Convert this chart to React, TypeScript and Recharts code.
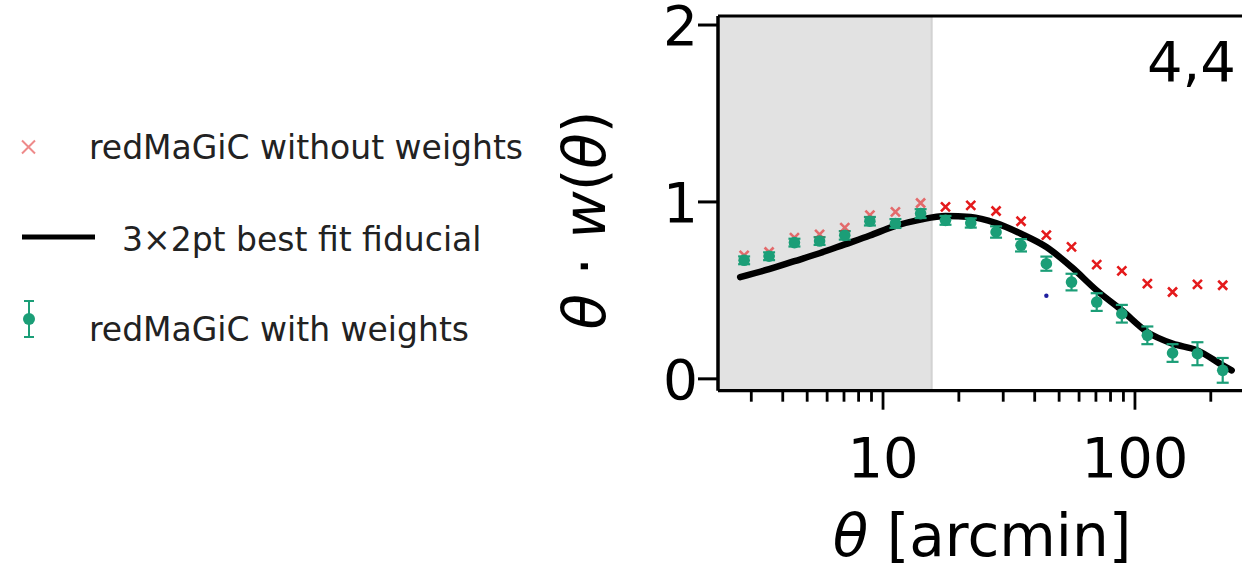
import React from 'react';
import { ComposedChart, XAxis, YAxis, Line, Scatter, ErrorBar, ReferenceArea, ReferenceLine } from 'recharts';

// ---- data ----
const thetaBins = [2.81, 3.53, 4.45, 5.6, 7.05, 8.87, 11.2, 14.1, 17.7, 22.3, 28.1, 35.3, 44.5, 56.0, 70.5, 88.7, 112, 141, 177, 223];
const withWeights = [0.67, 0.693, 0.77, 0.779, 0.811, 0.891, 0.878, 0.934, 0.896, 0.881, 0.83, 0.755, 0.651, 0.547, 0.434, 0.368, 0.246, 0.146, 0.142, 0.048];
const withWeightsErr = [0.022, 0.022, 0.022, 0.022, 0.024, 0.024, 0.025, 0.025, 0.025, 0.026, 0.032, 0.035, 0.04, 0.047, 0.05, 0.05, 0.05, 0.05, 0.065, 0.07];
const withoutWeights = [0.698, 0.717, 0.798, 0.817, 0.855, 0.925, 0.944, 0.994, 0.972, 0.981, 0.949, 0.891, 0.812, 0.746, 0.646, 0.61, 0.538, 0.491, 0.534, 0.529];
const fitTheta = [2.71, 3.53, 4.45, 5.6, 7.05, 8.87, 11.2, 14.1, 17.7, 22.3, 28.1, 35.3, 44.5, 56, 70.5, 88.7, 112, 141, 177, 223, 242];
const fitValues = [0.575, 0.62, 0.665, 0.71, 0.76, 0.81, 0.865, 0.9, 0.92, 0.915, 0.88, 0.82, 0.745, 0.632, 0.5, 0.387, 0.264, 0.199, 0.161, 0.076, 0.048];
const strayTheta = [44.5];
const strayValues = [0.47];

const xTicks = [3, 4, 5, 6, 7, 8, 9, 10, 20, 30, 40, 50, 60, 70, 80, 90, 100, 200];
const xMajor = [10, 100];
const yTicks = [0, 1, 2];
const legendLabels = ['redMaGiC without weights', '3×2pt best fit fiducial', 'redMaGiC with weights'];
const panelLabel = '4,4';
const scaleCut = 15.6;

const X_DOMAIN: [number, number] = [2.213, 266];
const Y_DOMAIN: [number, number] = [-0.067, 2.051];

const GREEN = '#1b9e77';
const RED = '#e41a1c';
const FONT = 'DejaVu Sans';

const withData = thetaBins.map((t, i) => ({ theta: t, y: withWeights[i], err: withWeightsErr[i] }));
const withoutData = thetaBins.map((t, i) => ({ theta: t, y: withoutWeights[i] }));
const fitData = fitTheta.map((t, i) => ({ theta: t, y: fitValues[i] }));
const strayData = strayTheta.map((t, i) => ({ theta: t, y: strayValues[i] }));

const BottomTick = (props: any) => {
  const { x, y, payload } = props;
  const v = payload.value;
  const major = xMajor.includes(v);
  return (
    <g>
      <line x1={x} x2={x} y1={y} y2={y + (major ? 19 : 11)} stroke="#000" strokeWidth={2.8} />
      {major && (
        <text x={x} y={y + 86} textAnchor="middle" fontSize={56} fontFamily={FONT} fill="#000">
          {v}
        </text>
      )}
    </g>
  );
};

const LeftTick = (props: any) => {
  const { x, y, payload } = props;
  return (
    <g>
      <line x1={x - 20} x2={x} y1={y} y2={y} stroke="#000" strokeWidth={3} />
      <text x={x - 20} y={y + 20} textAnchor="end" fontSize={55} fontFamily={FONT} fill="#000">
        {payload.value}
      </text>
    </g>
  );
};

const RightTick = (props: any) => {
  const { x, y } = props;
  return <line x1={x - 19} x2={x} y1={y} y2={y} stroke="#000" strokeWidth={3} />;
};

const Cross = (props: any) => {
  const { cx, cy, payload } = props;
  const s = 4.5;
  const faded = payload && payload.theta < scaleCut;
  return (
    <path
      d={`M${cx - s},${cy - s}L${cx + s},${cy + s}M${cx - s},${cy + s}L${cx + s},${cy - s}`}
      stroke={RED}
      strokeWidth={2.6}
      opacity={faded ? 0.6 : 1}
      fill="none"
    />
  );
};

const Dot = (props: any) => {
  const { cx, cy } = props;
  return <circle cx={cx} cy={cy} r={5.8} fill={GREEN} />;
};

const Stray = (props: any) => {
  const { cx, cy } = props;
  return <circle cx={cx} cy={cy} r={2.2} fill="#1f1f9f" />;
};

export default function App() {
  return (
    <div style={{ position: 'absolute', left: 0, top: 0, width: 1242, height: 569, background: '#fff' }}>
      <ComposedChart width={1242} height={569} margin={{ top: 12, right: 0, bottom: 0, left: 0 }}>
        <XAxis
          xAxisId="b"
          dataKey="theta"
          type="number"
          scale="log"
          domain={X_DOMAIN}
          allowDataOverflow
          ticks={xTicks}
          interval={0}
          tick={<BottomTick />}
          tickLine={false}
          tickSize={0}
          tickMargin={0}
          axisLine={{ stroke: '#000', strokeWidth: 3.2 }}
          height={178.3}
        />
        <XAxis
          xAxisId="t"
          orientation="top"
          dataKey="theta"
          type="number"
          scale="log"
          domain={X_DOMAIN}
          allowDataOverflow
          ticks={[10]}
          tick={false}
          tickLine={false}
          axisLine={{ stroke: '#000', strokeWidth: 3.2 }}
          height={4}
        />
        <YAxis
          yAxisId="l"
          dataKey="y"
          type="number"
          domain={Y_DOMAIN}
          allowDataOverflow
          ticks={yTicks}
          interval={0}
          tick={<LeftTick />}
          tickLine={false}
          tickSize={0}
          tickMargin={0}
          axisLine={{ stroke: '#000', strokeWidth: 3.5 }}
          width={718}
        />
        <YAxis
          yAxisId="r"
          orientation="right"
          type="number"
          domain={Y_DOMAIN}
          allowDataOverflow
          ticks={yTicks}
          interval={0}
          tick={<RightTick />}
          tickLine={false}
          tickSize={0}
          tickMargin={0}
          axisLine={{ stroke: '#000', strokeWidth: 3.5 }}
          width={0}
        />
        <ReferenceArea xAxisId="b" yAxisId="l" x1={X_DOMAIN[0]} x2={scaleCut} y1={Y_DOMAIN[0]} y2={Y_DOMAIN[1]} fill="#e2e2e2" fillOpacity={1} stroke="none" />
        <ReferenceLine xAxisId="b" yAxisId="l" x={scaleCut} stroke="#d2d2d2" strokeWidth={2} />
        <Scatter xAxisId="b" yAxisId="l" data={withoutData} dataKey="y" shape={<Cross />} isAnimationActive={false} />
        <Line
          xAxisId="b"
          yAxisId="l"
          data={fitData}
          dataKey="y"
          type="monotone"
          stroke="#000"
          strokeWidth={6.5}
          strokeLinecap="round"
          dot={false}
          activeDot={false}
          isAnimationActive={false}
        />
        <Scatter xAxisId="b" yAxisId="l" data={withData} dataKey="y" shape={<Dot />} isAnimationActive={false}>
          <ErrorBar dataKey="err" direction="y" width={6} stroke={GREEN} strokeWidth={2.2} />
        </Scatter>
        <Scatter xAxisId="b" yAxisId="l" data={strayData} dataKey="y" shape={<Stray />} isAnimationActive={false} />
      </ComposedChart>
      <svg width={1242} height={569} style={{ position: 'absolute', left: 0, top: 0, pointerEvents: 'none' }}>
        {/* legend */}
        <g fontFamily={FONT} fontSize={33} fill="#222">
          <path d="M22,140.5L35,153.5M22,153.5L35,140.5" stroke="#ee8a8a" strokeWidth={2} fill="none" />
          <text x={89} y={158.5}>{legendLabels[0]}</text>
          <line x1={22} x2={95} y1={237} y2={237} stroke="#000" strokeWidth={5} />
          <text x={122} y={251}>{legendLabels[1]}</text>
          <line x1={29} x2={29} y1={301} y2={337} stroke={GREEN} strokeWidth={2} />
          <line x1={24} x2={34} y1={301} y2={301} stroke={GREEN} strokeWidth={2} />
          <line x1={24} x2={34} y1={337} y2={337} stroke={GREEN} strokeWidth={2} />
          <circle cx={29} cy={319} r={6} fill={GREEN} />
          <text x={89} y={341}>{legendLabels[2]}</text>
        </g>
        {/* panel label */}
        <text x={1236} y={81} textAnchor="end" fontFamily={FONT} fontSize={56} fill="#000">{panelLabel}</text>
        {/* axis labels */}
        <text x={982} y={556} textAnchor="middle" fontFamily={FONT} fontSize={58} fill="#000">
          <tspan fontStyle="italic">θ</tspan>
          <tspan> [arcmin]</tspan>
        </text>
        <text x={605} y={220} textAnchor="middle" fontFamily={FONT} fontSize={58} fill="#000" transform="rotate(-90, 605, 220)">
          <tspan fontStyle="italic">θ</tspan>
          <tspan> · </tspan>
          <tspan fontStyle="italic">w</tspan>
          <tspan>(</tspan>
          <tspan fontStyle="italic">θ</tspan>
          <tspan>)</tspan>
        </text>
      </svg>
    </div>
  );
}
